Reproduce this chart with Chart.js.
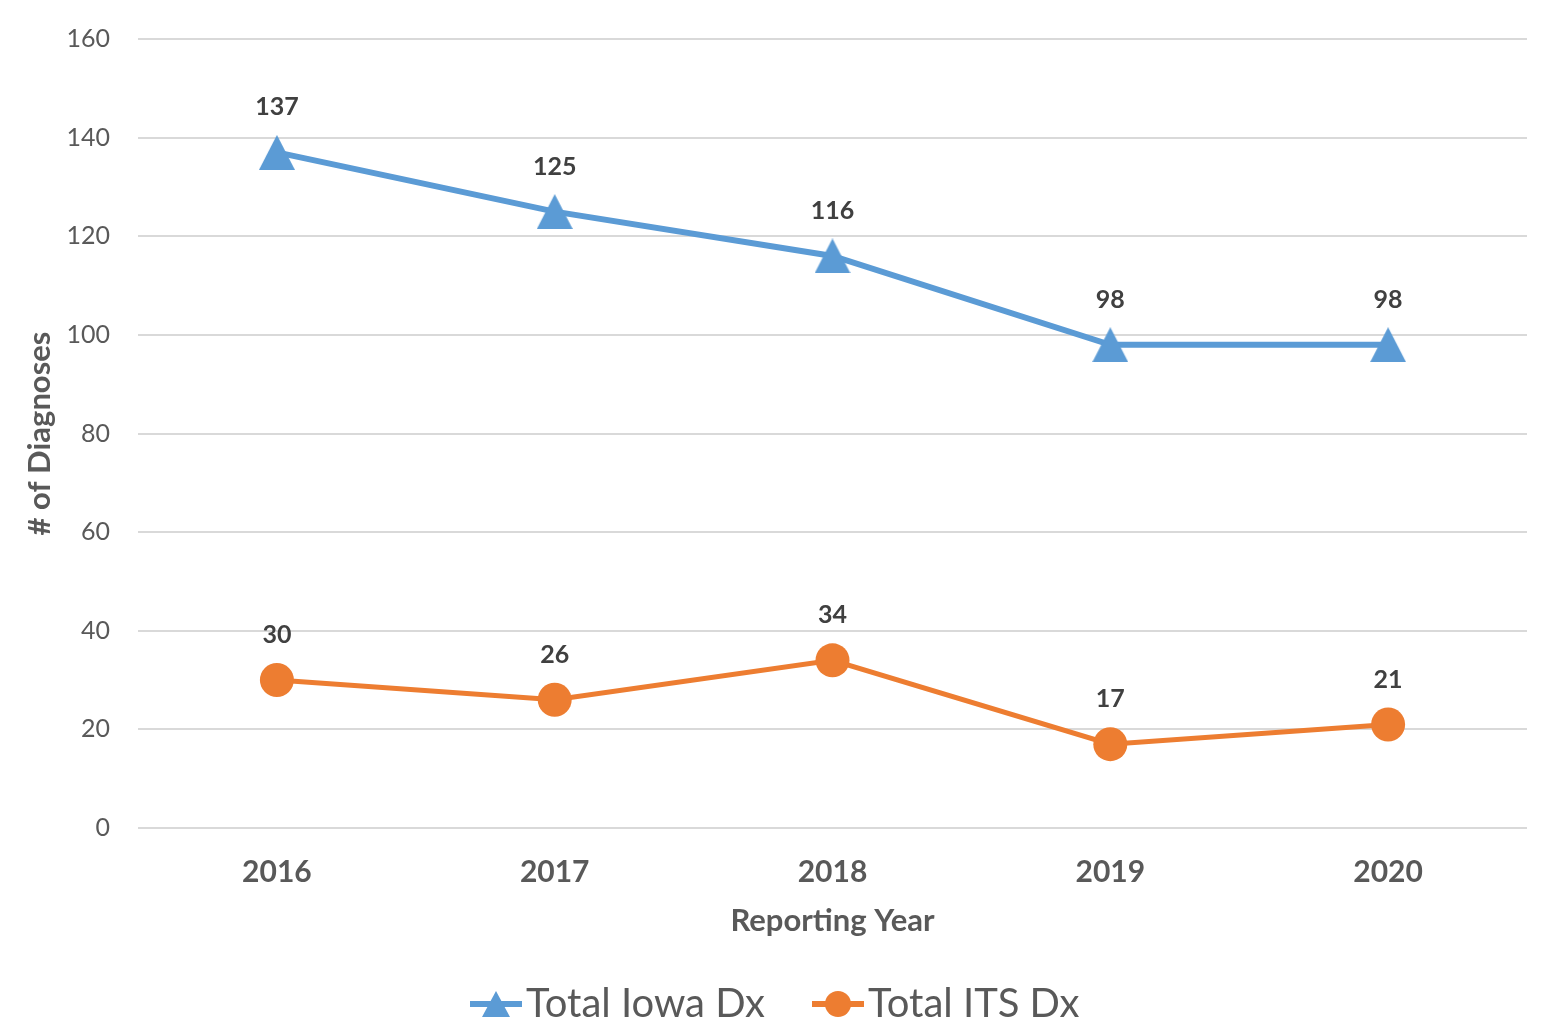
<!DOCTYPE html>
<html>
<head>
<meta charset="utf-8">
<script src="https://cdn.jsdelivr.net/npm/chart.js@4.4.0/dist/chart.umd.min.js"></script>
<style>
  html, body { margin: 0; padding: 0; background: #ffffff; overflow: hidden; }
  #wrap { width: 1547px; height: 1020px; position: relative; }
  canvas { display: block; }
</style>
</head>
<body>
<div id="wrap"><canvas id="c" width="1547" height="1020"></canvas></div>
<script>
const years = ['2016', '2017', '2018', '2019', '2020'];
const iowaDx = [137, 125, 116, 98, 98];
const itsDx = [30, 26, 34, 17, 21];
const yTicks = [0, 20, 40, 60, 80, 100, 120, 140, 160];
const seriesNames = ['Total Iowa Dx', 'Total ITS Dx'];

const BLUE = '#5B9BD5';
const ORANGE = '#ED7D31';
const FONT = 'Lato, "Open Sans", sans-serif';

function makeTriangle(w, h, color) {
  const cv = document.createElement('canvas');
  cv.width = w; cv.height = h;
  const g = cv.getContext('2d');
  g.fillStyle = color;
  g.beginPath();
  g.moveTo(w / 2, 0);
  g.lineTo(w, h);
  g.lineTo(0, h);
  g.closePath();
  g.fill();
  return cv;
}
const triImg = makeTriangle(36, 35, BLUE);

const dataLabels = {
  id: 'dataLabels',
  afterDatasetsDraw(chart) {
    const ctx = chart.ctx;
    ctx.save();
    ctx.font = 'bold 25px ' + FONT;
    ctx.fillStyle = '#404040';
    ctx.textAlign = 'center';
    ctx.textBaseline = 'middle';
    chart.data.datasets.forEach((ds, i) => {
      const meta = chart.getDatasetMeta(i);
      meta.data.forEach((pt, j) => {
        ctx.fillText(String(ds.data[j]), pt.x, pt.y - 45);
      });
    });
    ctx.restore();
  }
};

const customLegend = {
  id: 'customLegend',
  afterDraw(chart) {
    const ctx = chart.ctx;
    ctx.save();
    ctx.font = '40px ' + FONT;
    ctx.textBaseline = 'middle';
    ctx.textAlign = 'left';
    const y = 1004;
    const items = [
      { x: 470, color: BLUE, type: 'tri', text: seriesNames[0] },
      { x: 812, color: ORANGE, type: 'circle', text: seriesNames[1] }
    ];
    items.forEach(it => {
      ctx.strokeStyle = it.color;
      ctx.lineWidth = 6;
      ctx.beginPath();
      ctx.moveTo(it.x, y);
      ctx.lineTo(it.x + 52, y);
      ctx.stroke();
      ctx.fillStyle = it.color;
      const cx = it.x + 26;
      if (it.type === 'tri') {
        ctx.drawImage(makeTriangle(28, 26, it.color), cx - 14, y - 13);
      } else {
        ctx.beginPath();
        ctx.arc(cx, y, 13, 0, Math.PI * 2);
        ctx.fill();
      }
      ctx.fillStyle = '#595959';
      ctx.fillText(it.text, it.x + 56, y);
    });
    ctx.restore();
  }
};

function zeroPad(scale) {
  scale.paddingLeft = 0;
  scale.paddingRight = 0;
  scale.paddingTop = 0;
  scale.paddingBottom = 0;
}

new Chart(document.getElementById('c'), {
  type: 'line',
  data: {
    labels: years,
    datasets: [
      {
        label: seriesNames[0],
        data: iowaDx,
        borderColor: BLUE,
        backgroundColor: BLUE,
        borderWidth: 6,
        pointStyle: triImg,
        pointRadius: 18,
        pointHoverRadius: 18,
        tension: 0,
        fill: false
      },
      {
        label: seriesNames[1],
        data: itsDx,
        borderColor: ORANGE,
        backgroundColor: ORANGE,
        borderWidth: 5,
        pointStyle: 'circle',
        pointRadius: 17,
        pointHoverRadius: 17,
        pointBorderWidth: 0,
        tension: 0,
        fill: false
      }
    ]
  },
  options: {
    responsive: false,
    animation: false,
    devicePixelRatio: 1,
    layout: { autoPadding: false, padding: { top: 39, right: 20, left: 0, bottom: 62 } },
    plugins: {
      legend: { display: false },
      tooltip: { enabled: false },
      title: { display: false }
    },
    scales: {
      x: {
        offset: true,
        grid: { display: false, drawTicks: false },
        border: { display: false },
        ticks: {
          padding: 26,
          color: '#595959',
          font: { family: FONT, size: 30, weight: 'bold' }
        },
        title: {
          display: true,
          text: 'Reporting Year',
          color: '#595959',
          font: { family: FONT, size: 31, weight: 'bold' },
          padding: { top: 0, bottom: 18 }
        },
        afterFit(scale) {
          scale.height = 130;
          zeroPad(scale);
        }
      },
      y: {
        min: 0,
        max: 160,
        afterBuildTicks(scale) { scale.ticks = yTicks.map(v => ({ value: v })); },
        grid: { color: '#D9D9D9', lineWidth: 2, drawTicks: false },
        border: { display: false },
        ticks: {
          padding: 28,
          color: '#595959',
          font: { family: FONT, size: 25 }
        },
        title: {
          display: true,
          text: '# of Diagnoses',
          color: '#595959',
          font: { family: FONT, size: 31, weight: 'bold' },
          padding: { top: 21, bottom: 0 }
        },
        afterFit(scale) {
          scale.width = 138;
          zeroPad(scale);
        }
      }
    }
  },
  plugins: [dataLabels, customLegend]
});
</script>
</body>
</html>
